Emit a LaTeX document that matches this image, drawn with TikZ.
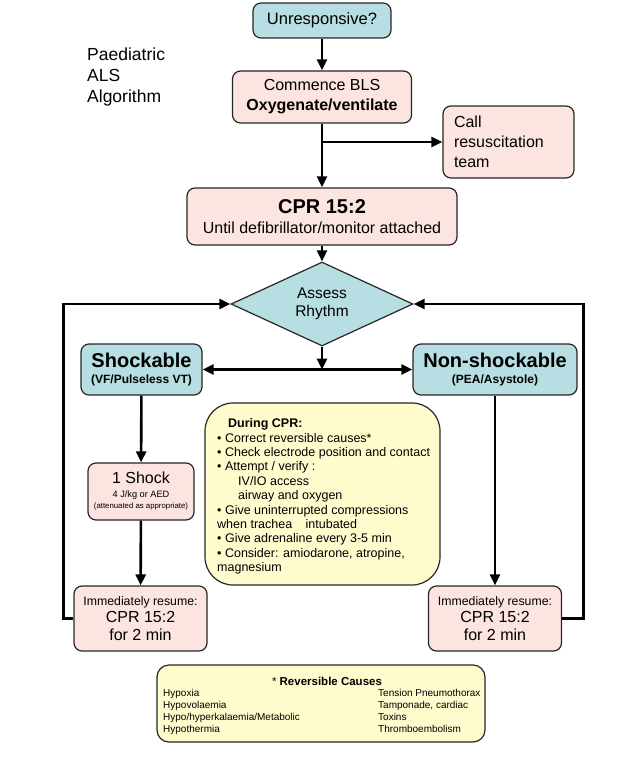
\documentclass[tikz,border=0pt]{standalone}
\usepackage{fontspec}
\setmainfont{Liberation Sans}
\usetikzlibrary{shapes.geometric, arrows.meta}
\definecolor{rhythmblue}{HTML}{B7DEE2}
\definecolor{stepred}{HTML}{FCE4E1}
\definecolor{noteyellow}{HTML}{FEFCCC}
\definecolor{edgegray}{HTML}{262626}
\newcommand{\fsz}[2]{\fontsize{#1}{#2}\selectfont}

\begin{document}
\begin{tikzpicture}[x=1pt,y=-1pt,
    >={Triangle[length=11pt,width=10pt]},
    box/.style={draw=edgegray, line width=1.2pt, rounded corners=8pt, align=center, inner sep=0pt},
    bluebox/.style={box, fill=rhythmblue},
    redbox/.style={box, fill=stepred},
    notebox/.style={box, fill=noteyellow},
    flow/.style={line width=2.6pt, draw=black}]
  \useasboundingbox (0,0) rectangle (632,769);

  \node[anchor=west, align=left, inner sep=0pt, font=\fsz{17.5}{21}] (title) at (87,76.5)
      {Paediatric\\ALS\\Algorithm};

  % Les etapes
  \node[bluebox, minimum width=138pt, minimum height=35pt, font=\fsz{16.5}{20}] (unresp) at (322,20.5)
      {Unresponsive?};
  \node[redbox, minimum width=179pt, minimum height=52pt, font=\fsz{16}{20}] (bls) at (322,97)
      {Commence BLS\\\textbf{Oxygenate/ventilate}};
  \node[redbox, text width=109pt, inner xsep=11pt, minimum height=72pt, align=left, font=\fsz{16}{20}] (call) at (508.5,142)
      {Call\\resuscitation\\team};
  \node[redbox, minimum width=270pt, minimum height=57pt, font=\fsz{16}{20.5}] (cpr) at (322,216.5)
      {{\fsz{20}{20}\bfseries CPR 15:2}\\Until defibrillator/monitor attached};
  \node[diamond, draw=edgegray, line width=1.2pt, fill=rhythmblue, aspect=2.17, minimum width=182pt, minimum height=84pt,
      inner sep=0pt, align=center, font=\fsz{15.5}{18}] (rhythm) at (322,304)
      {Assess\\Rhythm};
  \node[bluebox, minimum width=121pt, minimum height=51pt, font=\fsz{12}{16}\bfseries] (shock) at (141.5,369.5)
      {{\fsz{20}{20}Shockable}\\(VF/Pulseless VT)};
  \node[bluebox, minimum width=164pt, minimum height=51pt, font=\fsz{12}{16}\bfseries] (nonshock) at (495,369.5)
      {{\fsz{20}{20}Non-shockable}\\(PEA/Asystole)};
  \node[redbox, minimum width=106pt, minimum height=57pt, font=\fsz{16}{11.5}] (shock1) at (141,491.5)
      {1 Shock\\[2pt]{\fsz{9.2}{10}4 J/kg or AED}\\{\fsz{7.8}{9}(attenuated as appropriate)}};
  \node[redbox, minimum width=133pt, minimum height=65pt, font=\fsz{16}{17.5}] (resumeL) at (140.5,618.5)
      {{\fsz{12.3}{14}Immediately resume:}\\CPR 15:2\\for 2 min};
  \node[redbox, minimum width=133pt, minimum height=65pt, font=\fsz{16}{17.5}] (resumeR) at (495,618.5)
      {{\fsz{12.3}{14}Immediately resume:}\\CPR 15:2\\for 2 min};

  % Pendant la RCP
  \node[notebox, rounded corners=28pt, minimum width=235pt, minimum height=182pt] (during) at (322.5,494) {};
  \node[anchor=north west, align=left, inner sep=0pt, font=\fsz{12.5}{14.4}] (duringtext) at (217,418.5)
      {\hspace{11pt}\textbf{During CPR:}\\
       • Correct reversible causes*\\
       • Check electrode position and contact\\
       • Attempt / verify :\\
       \hspace{21pt}IV/IO access\\
       \hspace{21pt}airway and oxygen\\
       • Give uninterrupted compressions\\
       when trachea\hspace{10pt} intubated\\
       • Give adrenaline every 3-5 min\\
       • Consider: amiodarone, atropine,\\
       magnesium};

  % Causes reversibles
  \node[notebox, rounded corners=12pt, minimum width=328pt, minimum height=77pt] (causes) at (321,703.5) {};
  \node[inner sep=0pt, font=\fsz{11.5}{12}\bfseries] (causetitle) at (327,681) {{\mdseries*} Reversible Causes};
  \node[anchor=north west, align=left, inner sep=0pt, font=\fsz{10}{12}] (causeleft) at (163,689.5)
      {Hypoxia\\Hypovolaemia\\Hypo/hyperkalaemia/Metabolic\\Hypothermia};
  \node[anchor=north west, align=left, inner sep=0pt, font=\fsz{10}{12}] (causeright) at (378,689.5)
      {Tension Pneumothorax\\Tamponade, cardiac\\Toxins\\Thromboembolism};

  % Les fleches
  \draw[flow,->] (unresp) -- (bls);
  \draw[flow,->] (bls) -- (cpr);
  \coordinate (branch) at (bls.south |- call.west);
  \draw[flow,->] (branch) -- (call);
  \draw[flow,->] (cpr) -- (rhythm);
  \coordinate (fork) at (rhythm.south |- shock.east);
  \draw[flow,->] (rhythm) -- (fork);
  \draw[flow,<->] (shock) -- (nonshock);
  \draw[flow,->] (shock) -- (shock1);
  \draw[flow,->] (shock1) -- (resumeL);
  \draw[flow,->] (nonshock) -- (resumeR);
  \draw[flow,->] (resumeL.west) -- ++(-10,0) |- (rhythm.west);
  \draw[flow,->] (resumeR.east) -- ++(21.5,0) |- (rhythm.east);
\end{tikzpicture}
\end{document}
